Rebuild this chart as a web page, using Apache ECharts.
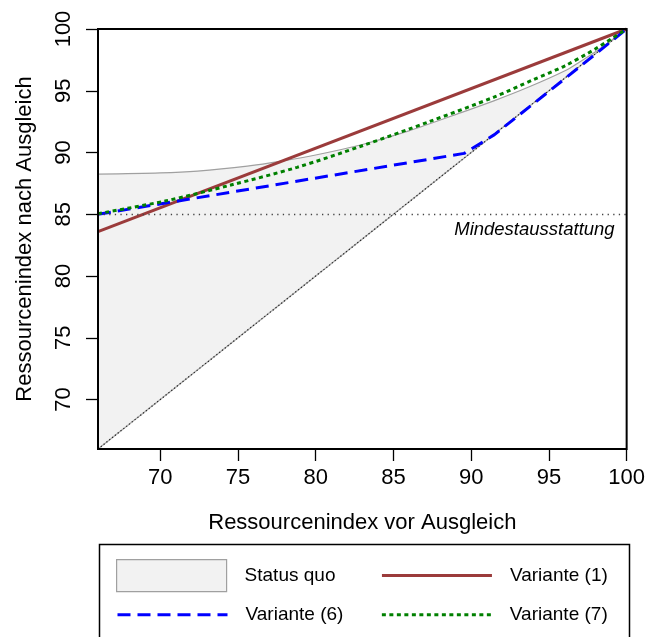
<!DOCTYPE html>
<html>
<head>
<meta charset="utf-8">
<script src="https://cdn.jsdelivr.net/npm/echarts@6/dist/echarts.min.js"></script>
<style>
  html, body { margin: 0; padding: 0; background: #fff; }
  #chart { width: 648px; height: 637px; }
</style>
</head>
<body>
<div id="chart"></div>
<script>
// Achsen
var xTicks = [70, 75, 80, 85, 90, 95, 100];
var yTicks = [70, 75, 80, 85, 90, 95, 100];
var axisMin = 66;
var axisMax = 100;
var minLevel = 85;

// Status quo (obere Kante der Flaeche)
var sqX = [66, 70, 72.4, 75.6, 77.8, 80, 83, 86, 89.4, 91.5, 93.7, 96, 97, 98, 100];
var sqY = [88.25, 88.35, 88.5, 88.9, 89.3, 89.8, 90.65, 91.75, 93.25, 94.2, 95.3, 96.6, 97.35, 98.15, 100];

// 45-Grad-Linie (untere Kante)
var diagX = [66, 100];
var diagY = [66, 100];

// Varianten
var v1X = [66, 100];
var v1Y = [83.6, 100];
var v6X = [66, 89.55, 91.5, 95.8, 100];
var v6Y = [85, 89.93, 91.45, 95.75, 100];
var v7X = [66, 70.3, 74.55, 78.8, 83, 87.3, 91.5, 94, 96, 98, 100];
var v7Y = [85.05, 86.07, 87.37, 88.8, 90.55, 92.5, 94.5, 95.9, 97.0, 98.4, 100];

function zip(xs, ys) {
  var out = [];
  for (var i = 0; i < xs.length; i++) out.push([xs[i], ys[i]]);
  return out;
}

var font = 'Liberation Sans, Arial, Helvetica, sans-serif';
var polygon = zip(sqX, sqY).concat(zip(diagX, diagY).reverse());
// nur die Linie in der Legende, kein Symbol
function lineItem(name) {
  return { name: name, itemStyle: { opacity: 0 } };
}

var myChart = echarts.init(document.getElementById('chart'));
myChart.setOption({
  animation: false,
  textStyle: { fontFamily: font },
  grid: {
    left: 98, right: 20, top: 29, bottom: 188,
    show: true, borderColor: '#000', borderWidth: 2, z: 10
  },
  xAxis: {
    type: 'value', min: axisMin, max: axisMax,
    name: 'Ressourcenindex vor Ausgleich',
    nameLocation: 'middle', nameGap: 63,
    nameTextStyle: { fontSize: 22, color: '#000', fontFamily: font },
    splitLine: { show: false },
    axisLine: { show: false },
    axisTick: { show: true, length: 12, customValues: xTicks, lineStyle: { color: '#000', width: 1.3 } },
    axisLabel: { customValues: xTicks, fontSize: 22, color: '#000', margin: 18, fontFamily: font }
  },
  yAxis: {
    type: 'value', min: axisMin, max: axisMax,
    name: 'Ressourcenindex nach Ausgleich',
    nameLocation: 'middle', nameGap: 62, nameRotate: 90,
    nameTextStyle: { fontSize: 22, color: '#000', fontFamily: font },
    splitLine: { show: false },
    axisLine: { show: false },
    axisTick: { show: true, length: 12, customValues: yTicks, lineStyle: { color: '#000', width: 1.3 } },
    axisLabel: { customValues: yTicks, fontSize: 22, color: '#000', margin: 23, rotate: 90, fontFamily: font }
  },
  legend: [
    {
      data: [
        { name: 'Status quo', icon: 'rect', itemStyle: { color: '#f2f2f2', borderColor: '#a0a0a0', borderWidth: 1.2 } },
        lineItem('Variante (1)')
      ],
      left: 116, top: 559, padding: 0,
      itemWidth: 110, itemHeight: 32, itemGap: 45,
      selectedMode: false,
      lineStyle: { width: 3 },
      textStyle: { fontSize: 19, color: '#000', padding: [0, 0, 0, 13], fontFamily: font }
    },
    {
      data: [lineItem('Variante (6)'), lineItem('Variante (7)')],
      left: 116, top: 602, padding: 0,
      itemWidth: 110, itemHeight: 32, itemGap: 37,
      selectedMode: false,
      lineStyle: { width: 3 },
      textStyle: { fontSize: 19, color: '#000', padding: [0, 0, 0, 13], fontFamily: font }
    }
  ],
  graphic: [
    {
      type: 'rect', left: 97, top: 542, silent: true,
      shape: { width: 530, height: 110 },
      style: { fill: 'none', stroke: '#000', lineWidth: 1.5 }
    }
  ],
  series: [
    {
      name: 'Status quo',
      type: 'custom',
      silent: true,
      itemStyle: { color: '#f2f2f2' },
      data: [[axisMin, axisMin]],
      renderItem: function (params, api) {
        if (params.dataIndex !== 0) return;
        var pts = polygon.map(function (p) { return api.coord(p); });
        return { type: 'polygon', shape: { points: pts }, style: { fill: '#f2f2f2', stroke: null } };
      },
      z: 1
    },
    {
      type: 'line', silent: true, symbol: 'none', smooth: 0.3,
      data: zip(sqX, sqY),
      lineStyle: { color: '#a0a0a0', width: 1.2 },
      z: 2
    },
    {
      type: 'line', silent: true, symbol: 'none',
      data: zip(diagX, diagY),
      lineStyle: { color: '#aaa', width: 1.3 },
      z: 2
    },
    {
      type: 'line', silent: true, symbol: 'none',
      data: zip(diagX, diagY),
      lineStyle: { color: '#222', width: 1.2, type: [1.2, 2.4] },
      markLine: {
        silent: true, symbol: 'none',
        lineStyle: { color: '#444', width: 1.3, type: [1.3, 4.3] },
        label: {
          show: true, position: 'insideEndBottom', formatter: 'Mindestausstattung',
          fontStyle: 'italic', fontSize: 18.5, color: '#000', fontFamily: font, distance: [12, 6]
        },
        data: [{ yAxis: minLevel }]
      },
      z: 2
    },
    {
      name: 'Variante (1)',
      type: 'line', symbol: 'none',
      data: zip(v1X, v1Y),
      itemStyle: { color: '#9b3b3b' },
      lineStyle: { color: '#9b3b3b', width: 3 },
      z: 3
    },
    {
      name: 'Variante (6)',
      type: 'line', symbol: 'none',
      data: zip(v6X, v6Y),
      itemStyle: { color: '#0000ff' },
      lineStyle: { color: '#0000ff', width: 3, type: [13, 7] },
      z: 3
    },
    {
      name: 'Variante (7)',
      type: 'line', symbol: 'none', smooth: 0.3,
      data: zip(v7X, v7Y),
      itemStyle: { color: '#008000' },
      lineStyle: { color: '#008000', width: 3, type: [4, 3.5] },
      z: 4
    }
  ]
});
</script>
</body>
</html>
